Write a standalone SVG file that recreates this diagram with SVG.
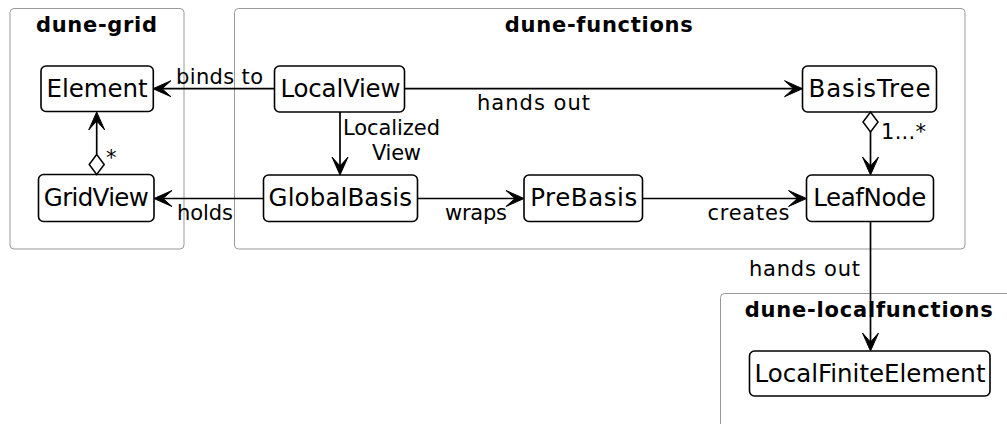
<svg xmlns="http://www.w3.org/2000/svg" width="1007" height="424" viewBox="0 0 1007 424">
  <style>
    .pkg { fill: none; stroke: #999999; stroke-width: 1; }
    .pkg-title { font-family: "DejaVu Sans", "Liberation Sans", sans-serif; font-weight: bold; font-size: 21px; fill: #000; text-anchor: middle; }
    .box { fill: #ffffff; stroke: #000; stroke-width: 1.6; }
    .name { font-family: "DejaVu Sans", "Liberation Sans", sans-serif; font-size: 24.5px; fill: #000; text-anchor: middle; }
    .edge { fill: none; stroke: #000; stroke-width: 1.7; }
    .lbl { font-family: "DejaVu Sans", "Liberation Sans", sans-serif; font-size: 21px; fill: #000; }
  </style>
  <defs>
    <!-- notched arrowhead; origin sits on the notch, tip 9px ahead -->
    <marker id="arrow" viewBox="-10 -9 20 18" refX="0" refY="0" markerWidth="20" markerHeight="18" markerUnits="userSpaceOnUse" orient="auto">
      <path d="M9,0 L-9,-8 L0,0 L-9,8 Z" fill="#000" stroke="#000" stroke-width="1"/>
    </marker>
    <!-- aggregation diamond, extends back from the path start -->
    <marker id="diamond" viewBox="-21 -9 22 18" refX="0" refY="0" markerWidth="22" markerHeight="18" markerUnits="userSpaceOnUse" orient="auto">
      <path d="M0,0 L-10,-7.5 L-20,0 L-10,7.5 Z" fill="#fff" stroke="#000" stroke-width="1.5"/>
    </marker>
  </defs>

  <!-- packages -->
  <g id="pkg-dune-grid">
    <rect class="pkg" x="10" y="8.5" width="174" height="240.5" rx="4"/>
    <text class="pkg-title" x="96.5" y="32" textLength="121" lengthAdjust="spacing">dune-grid</text>
  </g>
  <g id="pkg-dune-functions">
    <rect class="pkg" x="234.5" y="8.5" width="730.5" height="240.5" rx="4"/>
    <text class="pkg-title" x="598.8" y="32" textLength="188" lengthAdjust="spacing">dune-functions</text>
  </g>
  <g id="pkg-dune-localfunctions">
    <rect class="pkg" x="720.5" y="293.5" width="320" height="160" rx="4"/>
    <text class="pkg-title" x="868.8" y="316.5" textLength="248" lengthAdjust="spacing">dune-localfunctions</text>
  </g>

  <!-- classes -->
  <g id="Element">
    <rect class="box" x="41" y="66" width="112.3" height="45.5" rx="5"/>
    <text class="name" x="97" y="96.5" textLength="101" lengthAdjust="spacing">Element</text>
  </g>
  <g id="GridView">
    <rect class="box" x="38.5" y="174.5" width="115.5" height="47" rx="5"/>
    <text class="name" x="96.3" y="206" textLength="105" lengthAdjust="spacing">GridView</text>
  </g>
  <g id="LocalView">
    <rect class="box" x="274.5" y="66" width="130" height="46" rx="5"/>
    <text class="name" x="340.5" y="96.5" textLength="120" lengthAdjust="spacing">LocalView</text>
  </g>
  <g id="GlobalBasis">
    <rect class="box" x="263.5" y="175" width="154" height="46.5" rx="5"/>
    <text class="name" x="340.3" y="206" textLength="143.5" lengthAdjust="spacing">GlobalBasis</text>
  </g>
  <g id="PreBasis">
    <rect class="box" x="524" y="175" width="118.5" height="46.5" rx="5"/>
    <text class="name" x="583.7" y="206" textLength="107" lengthAdjust="spacing">PreBasis</text>
  </g>
  <g id="BasisTree">
    <rect class="box" x="802.5" y="66" width="134" height="46" rx="5"/>
    <text class="name" x="869.5" y="96.5" textLength="122" lengthAdjust="spacing">BasisTree</text>
  </g>
  <g id="LeafNode">
    <rect class="box" x="806.5" y="175" width="127" height="46.5" rx="5"/>
    <text class="name" x="869.8" y="206" textLength="113" lengthAdjust="spacing">LeafNode</text>
  </g>
  <g id="LocalFiniteElement">
    <rect class="box" x="749.5" y="351" width="240.5" height="45" rx="5"/>
    <text class="name" x="870" y="381.5" textLength="231" lengthAdjust="spacing">LocalFiniteElement</text>
  </g>

  <!-- relations -->
  <g id="connectors">
    <path class="edge" d="M274.5,88.7 H162" marker-end="url(#arrow)"/>
    <text class="lbl" x="176" y="84" textLength="87" lengthAdjust="spacing">binds to</text>

    <path class="edge" d="M404.5,88.7 H793.5" marker-end="url(#arrow)"/>
    <text class="lbl" x="477" y="110" textLength="113" lengthAdjust="spacing">hands out</text>

    <path class="edge" d="M340,112 V166" marker-end="url(#arrow)"/>
    <text class="lbl" x="343" y="135" textLength="97" lengthAdjust="spacing">Localized</text>
    <text class="lbl" x="372" y="159.5" textLength="49" lengthAdjust="spacing">View</text>

    <path class="edge" d="M263.5,198.5 H163" marker-end="url(#arrow)"/>
    <text class="lbl" x="177" y="220" textLength="56" lengthAdjust="spacing">holds</text>

    <path class="edge" d="M417.5,198.5 H515" marker-end="url(#arrow)"/>
    <text class="lbl" x="445" y="220" textLength="62" lengthAdjust="spacing">wraps</text>

    <path class="edge" d="M642.5,198.5 H797.5" marker-end="url(#arrow)"/>
    <text class="lbl" x="707.5" y="220" textLength="82" lengthAdjust="spacing">creates</text>

    <path class="edge" d="M96.7,154.5 V121" marker-start="url(#diamond)" marker-end="url(#arrow)"/>
    <text class="lbl" x="106" y="165" textLength="11" lengthAdjust="spacing">*</text>

    <path class="edge" d="M870.5,132 V166" marker-start="url(#diamond)" marker-end="url(#arrow)"/>
    <text class="lbl" x="881" y="138.5" textLength="45" lengthAdjust="spacing">1...*</text>

    <path class="edge" d="M870.5,221.5 V342" marker-end="url(#arrow)"/>
    <text class="lbl" x="749" y="276" textLength="111" lengthAdjust="spacing">hands out</text>
  </g>
</svg>
